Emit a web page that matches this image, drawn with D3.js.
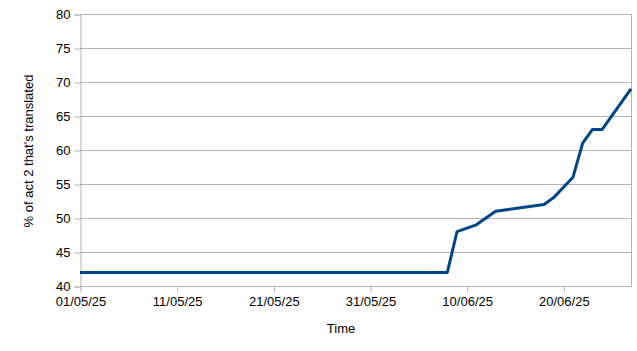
<!DOCTYPE html>
<html>
<head>
<meta charset="utf-8">
<script src="https://cdn.jsdelivr.net/npm/d3@7"></script>
<style>
  body { margin: 0; background: #fff; }
  text { font-family: "Liberation Sans", Arial, sans-serif; fill: #000; }
</style>
</head>
<body>
<div id="chart"></div>
<script>
// data
let dates = ["01/05/25", "08/06/25", "09/06/25", "11/06/25", "13/06/25", "18/06/25",
  "19/06/25", "21/06/25", "22/06/25", "23/06/25", "24/06/25", "27/06/25"];
let percent = [42, 42, 48, 49, 51, 52, 53, 56, 61, 63, 63, 69];
let yTicks = [40, 45, 50, 55, 60, 65, 70, 75, 80];
let xTickLabels = ["01/05/25", "11/05/25", "21/05/25", "31/05/25", "10/06/25", "20/06/25"];

let parse = d3.timeParse("%d/%m/%y");
let fmt = d3.timeFormat("%d/%m/%y");
let data = dates.map((d, i) => ({ date: parse(d), value: percent[i] }));

let width = 637, height = 351;
let plotLeft = 80, plotRight = 631, plotTop = 14, plotBottom = 286;

let x = d3.scaleTime()
  .domain([parse("01/05/25"), parse("27/06/25")])
  .range([plotLeft, plotRight]);

let y = d3.scaleLinear()
  .domain([40, 80])
  .range([plotBottom, plotTop]);

let svg = d3.select("#chart").append("svg")
  .attr("width", width)
  .attr("height", height);

// horizontal grid
svg.append("g")
  .selectAll("line")
  .data(yTicks)
  .enter()
  .append("line")
  .attr("x1", plotLeft)
  .attr("x2", plotRight)
  .attr("y1", d => y(d) + 0.5)
  .attr("y2", d => y(d) + 0.5)
  .attr("stroke", "#b3b3b3")
  .attr("stroke-width", 1);

// right border
svg.append("line")
  .attr("x1", plotRight + 0.5).attr("x2", plotRight + 0.5)
  .attr("y1", plotTop).attr("y2", plotBottom)
  .attr("stroke", "#b3b3b3");

let yAxis = d3.axisLeft(y).tickValues(yTicks).tickSize(6).tickPadding(4);
let gy = svg.append("g").attr("transform", `translate(${plotLeft + 0.5}, 0.5)`).call(yAxis);
gy.select(".domain").attr("stroke", "#b3b3b3");
gy.selectAll(".tick line").attr("stroke", "#b3b3b3");
gy.selectAll(".tick text").attr("font-size", 13).attr("font-family", "Liberation Sans, Arial, sans-serif").attr("fill", "#000");

let xAxis = d3.axisBottom(x)
  .tickValues(xTickLabels.map(parse))
  .tickFormat(fmt)
  .tickSize(6)
  .tickPadding(4);
let gx = svg.append("g").attr("transform", `translate(0.5, ${plotBottom + 0.5})`).call(xAxis);
gx.select(".domain").attr("stroke", "#b3b3b3").attr("d", `M${plotLeft},0H${plotRight}`);
gx.selectAll(".tick line").attr("stroke", "#b3b3b3");
gx.selectAll(".tick text").attr("font-size", 13).attr("font-family", "Liberation Sans, Arial, sans-serif").attr("fill", "#000");

let line = d3.line()
  .x(d => x(d.date))
  .y(d => y(d.value));

svg.append("path")
  .datum(data)
  .attr("fill", "none")
  .attr("stroke", "#004586")
  .attr("stroke-width", 3)
  .attr("stroke-linejoin", "round")
  .attr("d", line);

svg.append("text")
  .attr("x", 341)
  .attr("y", 333)
  .attr("text-anchor", "middle")
  .attr("font-size", 13)
  .text("Time");

svg.append("text")
  .attr("transform", `translate(33, ${(plotTop + plotBottom) / 2 + 1}) rotate(-90)`)
  .attr("text-anchor", "middle")
  .attr("font-size", 13)
  .text("% of act 2 that's translated");
</script>
</body>
</html>
